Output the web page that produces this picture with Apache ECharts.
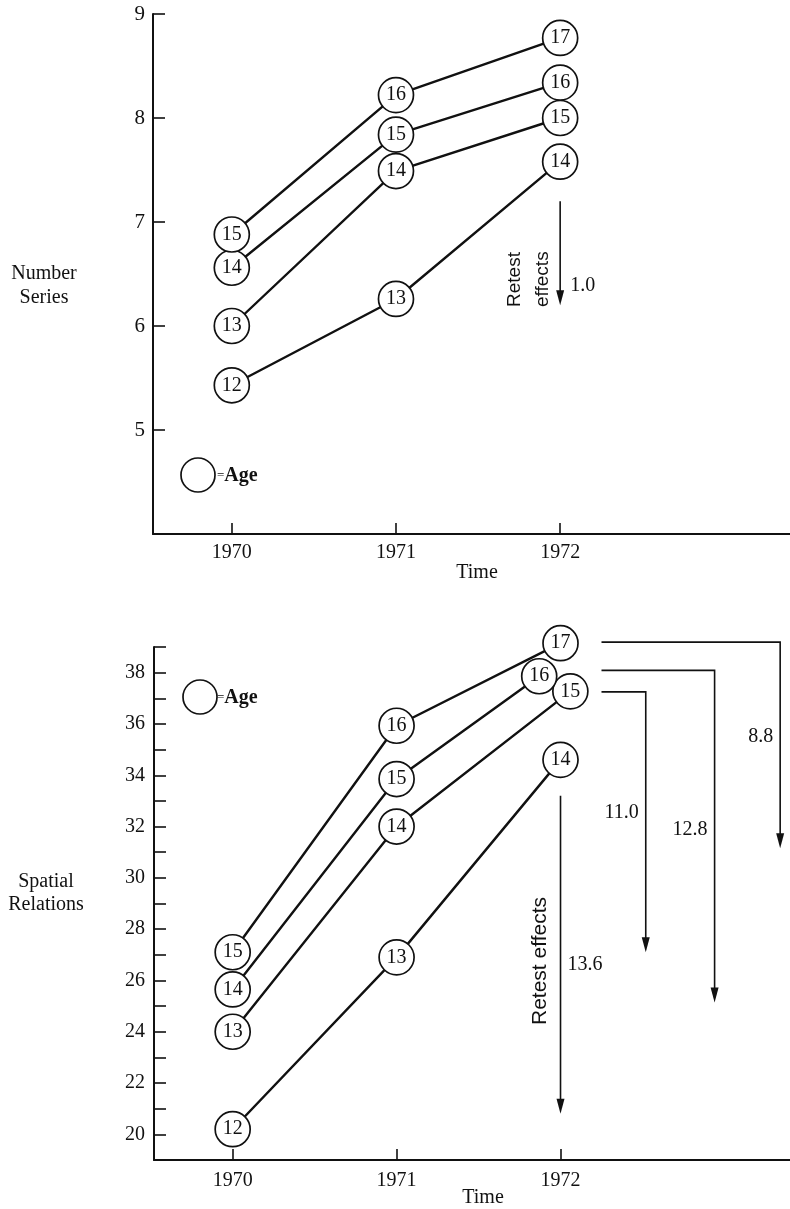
<!DOCTYPE html>
<html><head><meta charset="utf-8">
<script src="https://cdn.jsdelivr.net/npm/echarts@6/dist/echarts.min.js"></script>
<style>html,body{margin:0;padding:0;background:#fff}#c{width:790px;height:1209px}</style>
</head><body><div id="c"></div>
<script>
// ---------- data ----------
const years = [1970, 1971, 1972];
const cohortAges = [[12, 13, 14], [13, 14, 15], [14, 15, 16], [15, 16, 17]];

// Number Series (top panel), one array per cohort
const numberSeriesA = [5.43, 6.26, 7.58];
const numberSeriesB = [6.00, 7.49, 8.00];
const numberSeriesC = [6.56, 7.84, 8.34];
const numberSeriesD = [6.88, 8.22, 8.77];
const numberTicks = [5, 6, 7, 8, 9];

// Spatial Relations (bottom panel)
const spatialA = [20.2, 26.9, 34.6];
const spatialB = [24.0, 32.0, 37.27];
const spatialC = [25.65, 33.85, 37.86];
const spatialD = [27.1, 35.93, 39.15];
// plotted time positions (1972 circles are nudged apart in the original)
const spatialYearsA = [1970, 1971, 1972];
const spatialYearsB = [1970, 1971, 1972.06];
const spatialYearsC = [1970, 1971, 1971.87];
const spatialYearsD = [1970, 1971, 1972];
const spatialTicks = [20, 22, 24, 26, 28, 30, 32, 34, 36, 38];
const spatialMinorTicks = [19, 20, 21, 22, 23, 24, 25, 26, 27, 28, 29, 30, 31, 32, 33, 34, 35, 36, 37, 38, 39];

// Retest effects (arrows), in data units
const numberRetest = [1.0];
const numberRetestStartX = [1972];
const numberRetestX = [1972];
const numberRetestFrom = [7.2];
const numberRetestTo = [6.2];

const spatialRetest = [13.6, 11.0, 12.8, 8.8];
const spatialRetestStartX = [1972, 1972.25, 1972.25, 1972.25];
const spatialRetestX = [1972, 1972.52, 1972.94, 1973.34];
const spatialRetestFrom = [33.2, 37.25, 38.09, 39.19];
const spatialRetestTo = [20.8, 27.1, 25.14, 31.15];

// ---------- styling ----------
const SERIF = '"Liberation Serif", "Times New Roman", serif';
const SANS = '"Liberation Sans", Arial, sans-serif';
const INK = '#111';

function cohortSeries(idx, xs, ys, ages) {
  return {
    type: 'line', xAxisIndex: idx, yAxisIndex: idx, clip: false, z: 3,
    data: ys.map((v, i) => ({ name: String(ages[i]), value: [xs[i], v] })),
    symbol: 'circle', symbolSize: 35, showAllSymbol: true,
    itemStyle: { color: '#fff', borderColor: INK, borderWidth: 1.7 },
    lineStyle: { color: INK, width: 2.4 },
    label: { show: true, position: 'inside', formatter: '{b}', fontFamily: SERIF, fontSize: 20, color: INK },
    emphasis: { disabled: true }, silent: true
  };
}

function arrowSeries(idx, effects, sx, x, from, to, labelFrac, labelSide, labelGap) {
  return {
    type: 'custom', xAxisIndex: idx, yAxisIndex: idx, clip: false, silent: true, z: 2,
    data: effects.map((e, i) => [sx[i], x[i], from[i], to[i], e]),
    renderItem: (params, api) => {
      const i = params.dataIndex;
      const p0 = api.coord([api.value(0), api.value(2)]);
      const p1 = api.coord([api.value(1), api.value(2)]);
      const p2 = api.coord([api.value(1), api.value(3)]);
      const headLen = 15, headW = 4;
      const right = labelSide[i] === 'right';
      return {
        type: 'group',
        children: [
          { type: 'polyline', shape: { points: [p0, p1, [p2[0], p2[1] - headLen + 2]] },
            style: { stroke: INK, lineWidth: 1.6, fill: null } },
          { type: 'polygon', shape: { points: [[p2[0] - headW, p2[1] - headLen], [p2[0] + headW, p2[1] - headLen], [p2[0], p2[1]]] },
            style: { fill: INK } },
          { type: 'text', x: p1[0] + (right ? labelGap : -labelGap), y: p1[1] + (p2[1] - p1[1]) * labelFrac[i],
            style: { text: api.value(4).toFixed(1), font: '20px ' + SERIF, align: right ? 'left' : 'right', verticalAlign: 'middle', fill: INK } }
        ]
      };
    }
  };
}

function xAxisDef(gi) {
  return {
    type: 'value', gridIndex: gi, min: 1969.52, max: 1973.4,
    axisLine: { show: true, lineStyle: { color: INK, width: 2 } },
    axisTick: { show: true, inside: true, length: 11, customValues: years, lineStyle: { color: INK, width: 1.6 } },
    axisLabel: { customValues: years, formatter: v => String(Math.round(v)), margin: gi === 0 ? 9 : 11,
      fontFamily: SERIF, fontSize: 20, color: INK },
    splitLine: { show: false }
  };
}

const chart = echarts.init(document.getElementById('c'), null, { renderer: 'canvas' });
chart.setOption({
  animation: false,
  backgroundColor: '#fff',
  grid: [
    { left: 153, top: 14, right: 0, height: 520 },
    { left: 154, top: 647, right: 0, height: 513 }
  ],
  xAxis: [xAxisDef(0), xAxisDef(1)],
  yAxis: [
    { type: 'value', gridIndex: 0, min: 4, max: 9, interval: 1,
      axisLine: { show: true, lineStyle: { color: INK, width: 2 } },
      axisTick: { show: true, inside: true, length: 12, customValues: numberTicks, lineStyle: { color: INK, width: 1.6 } },
      axisLabel: { customValues: numberTicks, margin: 8, fontFamily: SERIF, fontSize: 21, color: INK },
      splitLine: { show: false } },
    { type: 'value', gridIndex: 1, min: 19, max: 39, interval: 1,
      axisLine: { show: true, lineStyle: { color: INK, width: 2 } },
      axisTick: { show: true, inside: true, length: 12, customValues: spatialMinorTicks, lineStyle: { color: INK, width: 1.6 } },
      axisLabel: { customValues: spatialTicks, margin: 9, fontFamily: SERIF, fontSize: 20, color: INK },
      splitLine: { show: false } }
  ],
  series: [
    cohortSeries(0, years, numberSeriesA, cohortAges[0]),
    cohortSeries(0, years, numberSeriesB, cohortAges[1]),
    cohortSeries(0, years, numberSeriesC, cohortAges[2]),
    cohortSeries(0, years, numberSeriesD, cohortAges[3]),
    cohortSeries(1, spatialYearsA, spatialA, cohortAges[0]),
    cohortSeries(1, spatialYearsB, spatialB, cohortAges[1]),
    cohortSeries(1, spatialYearsC, spatialC, cohortAges[2]),
    cohortSeries(1, spatialYearsD, spatialD, cohortAges[3]),
    arrowSeries(0, numberRetest, numberRetestStartX, numberRetestX, numberRetestFrom, numberRetestTo, [0.81], ['right'], 10),
    arrowSeries(1, spatialRetest, spatialRetestStartX, spatialRetestX, spatialRetestFrom, spatialRetestTo,
      [0.53, 0.465, 0.48, 0.46], ['right', 'left', 'left', 'left'], 7)
  ],
  graphic: [
    { type: 'text', x: 44, y: 274, style: { text: 'Number', font: '20px ' + SERIF, align: 'center', verticalAlign: 'middle', fill: INK } },
    { type: 'text', x: 44, y: 298, style: { text: 'Series', font: '20px ' + SERIF, align: 'center', verticalAlign: 'middle', fill: INK } },
    { type: 'text', x: 46, y: 882, style: { text: 'Spatial', font: '20px ' + SERIF, align: 'center', verticalAlign: 'middle', fill: INK } },
    { type: 'text', x: 46, y: 905, style: { text: 'Relations', font: '20px ' + SERIF, align: 'center', verticalAlign: 'middle', fill: INK } },
    { type: 'text', x: 477, y: 573, style: { text: 'Time', font: '20px ' + SERIF, align: 'center', verticalAlign: 'middle', fill: INK } },
    { type: 'text', x: 483, y: 1198, style: { text: 'Time', font: '20px ' + SERIF, align: 'center', verticalAlign: 'middle', fill: INK } },
    { type: 'circle', shape: { cx: 198, cy: 475, r: 17 }, style: { fill: '#fff', stroke: INK, lineWidth: 1.7 } },
    { type: 'text', x: 217, y: 476, style: { text: '{e|=}{a|Age}', verticalAlign: 'middle', fill: INK,
        rich: { e: { fontFamily: SERIF, fontSize: 13, fill: INK }, a: { fontFamily: SERIF, fontSize: 20, fontWeight: 'bold', fill: INK } } } },
    { type: 'circle', shape: { cx: 200, cy: 697, r: 17 }, style: { fill: '#fff', stroke: INK, lineWidth: 1.7 } },
    { type: 'text', x: 217, y: 698, style: { text: '{e|=}{a|Age}', verticalAlign: 'middle', fill: INK,
        rich: { e: { fontFamily: SERIF, fontSize: 13, fill: INK }, a: { fontFamily: SERIF, fontSize: 20, fontWeight: 'bold', fill: INK } } } },
    { type: 'text', x: 529, y: 307, rotation: Math.PI / 2,
      style: { text: 'Retest\neffects', font: '19px ' + SANS, lineHeight: 28, align: 'left', verticalAlign: 'middle', fill: INK } },
    { type: 'text', x: 540, y: 961, rotation: Math.PI / 2,
      style: { text: 'Retest effects', font: '21px ' + SANS, align: 'center', verticalAlign: 'middle', fill: INK } }
  ]
});
</script>
</body></html>
